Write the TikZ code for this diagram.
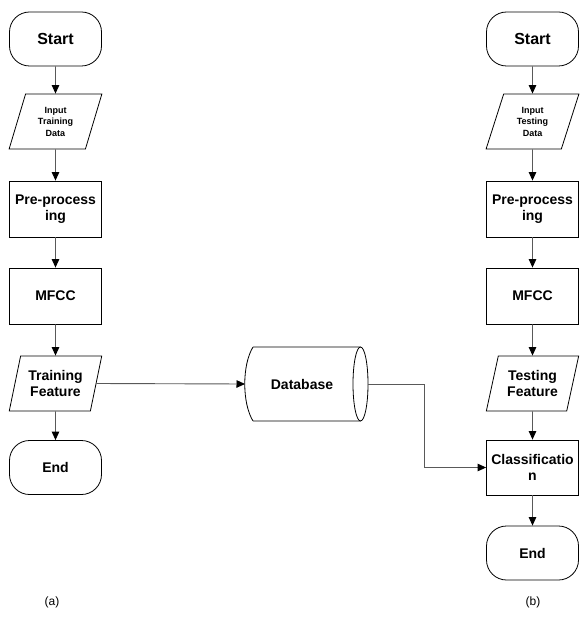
\documentclass[tikz,border=0pt]{standalone}
\usepackage{fontspec}
\setmainfont{Liberation Sans}
\usetikzlibrary{arrows.meta,shapes.geometric}
\begin{document}
\begin{tikzpicture}[x=1pt,y=-1pt,
  base/.style={draw=black,line width=0.8pt,font=\bfseries\fontsize{14}{16}\selectfont,align=center,inner sep=1pt},
  term/.style={base,rectangle,rounded corners=20pt,minimum width=92pt,minimum height=54pt},
  proc/.style={base,rectangle,minimum width=92pt,minimum height=56pt},
  io/.style={base,trapezium,trapezium left angle=72,trapezium right angle=108,trapezium stretches=true,minimum width=93pt,minimum height=55pt},
  small/.style={font=\bfseries\fontsize{9}{11.5}\selectfont},
  conn/.style={draw=black!65,line width=0.9pt,-{Triangle[length=8.5pt,width=7.5pt,black]}},
  caption/.style={font=\fontsize{12}{14}\selectfont}
]
\useasboundingbox (0,0) rectangle (579,620);

% left column
\node[term,font=\bfseries\fontsize{16}{18}\selectfont] (s1) at (55.5,39) {Start};
\node[io,small] (in1) at (55.5,121.5) {Input\\Training\\Data};
\node[proc] (pp1) at (55.5,209) {Pre-process\\ing};
\node[proc] (mf1) at (55.5,296) {MFCC};
\node[io] (tf) at (55.5,383.5) {Training\\Feature};
\node[term] (e1) at (55.5,467.5) {End};

% right column
\node[term,font=\bfseries\fontsize{16}{18}\selectfont] (s2) at (532.5,39) {Start};
\node[io,small] (in2) at (532.5,121.5) {Input\\Testing\\Data};
\node[proc] (pp2) at (532.5,209) {Pre-process\\ing};
\node[proc] (mf2) at (532.5,296) {MFCC};
\node[io] (ts) at (532.5,383.5) {Testing\\Feature};
\node[proc,minimum height=55pt] (cls) at (532.5,467.5) {Classificatio\\n};
\node[term] (e2) at (532.5,553) {End};

% database
\node[font=\bfseries\fontsize{14}{16}\selectfont] (db) at (302,384) {Database};
\draw[line width=0.8pt] (253,347) -- (360.5,347) (253,421) -- (360.5,421)
  (253,347) .. controls (242,365) and (242,403) .. (253,421);
\draw[line width=0.8pt] (360.5,384) ellipse [x radius=7.5, y radius=37];
\coordinate (dbL) at (245,384);
\coordinate (dbR) at (368,384);

% connectors
\draw[conn] (s1) -- (in1);
\draw[conn] (in1) -- (pp1);
\draw[conn] (pp1) -- (mf1);
\draw[conn] (mf1) -- (tf);
\draw[conn] (tf) -- (e1);
\draw[conn] (s2) -- (in2);
\draw[conn] (in2) -- (pp2);
\draw[conn] (pp2) -- (mf2);
\draw[conn] (mf2) -- (ts);
\draw[conn] (ts) -- (cls);
\draw[conn] (cls) -- (e2);
\draw[conn] (tf.east) -- (dbL);
\draw[conn] (dbR) -- ++(56,0) |- (cls.west);

% captions
\node[caption] (ca) at (52,602) {(a)};
\node[caption] (cb) at (533,602) {(b)};
\end{tikzpicture}
\end{document}
